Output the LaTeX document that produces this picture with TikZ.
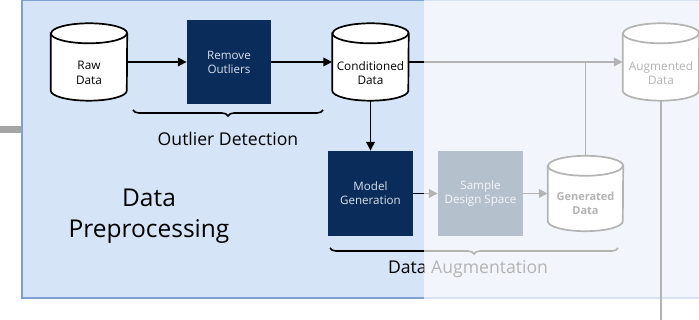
\documentclass[tikz,border=0pt]{standalone}
\usepackage{fontspec}
\setmainfont{Open Sans}
\usetikzlibrary{arrows.meta,decorations.pathreplacing,calc}

\definecolor{navy}{RGB}{10,44,90}
\definecolor{boxtext}{RGB}{218,225,236}
\definecolor{panelfill}{RGB}{214,228,248}
\definecolor{panelline}{RGB}{128,160,210}
\definecolor{stub}{RGB}{165,165,165}

\tikzset{
  stepbox/.style={fill=navy, minimum width=84pt, minimum height=84pt, inner sep=0pt,
    text=boxtext, font=\fontsize{11.6}{14}\selectfont, align=center},
  db/.style={minimum width=76pt, minimum height=77pt, inner sep=0pt},
  dbline/.style={draw=black, line width=1.7pt, fill=white},
  dbtext/.style={font=\fontsize{11.8}{14.5}\selectfont, align=center, inner sep=0pt},
  flow/.style={line width=1.7pt, -{Triangle[length=9pt,width=8.5pt]}},
  plain/.style={line width=1.7pt},
  groupbrace/.style={decorate, decoration={brace, mirror, amplitude=6pt}, line width=1.6pt},
  grouptitle/.style={font=\fontsize{17.6}{21}\selectfont},
}

% database cylinder drawn round a named node
\newcommand\drawdb[2]{%
  \draw[dbline] ([yshift=-10pt]#1.north west) -- ([yshift=10pt]#1.south west)
    arc[start angle=180, end angle=360, x radius=#2, y radius=10pt]
    -- ([yshift=-10pt]#1.north east)
    arc[start angle=0, end angle=180, x radius=#2, y radius=10pt] -- cycle;
  \draw[dbline, fill=none] ([yshift=-10pt]#1.north west)
    arc[start angle=180, end angle=360, x radius=#2, y radius=10pt];
}

\begin{document}
\begin{tikzpicture}[x=1pt, y=1pt]
  \useasboundingbox (0,0) rectangle (699,320);

  % preprocessing panel and incoming stub
  \fill[stub] (0,187) rectangle (22,194);
  \draw[draw=panelline, fill=panelfill, line width=1.2pt] (22,22) rectangle (730,319.6);

  % process steps
  \node[stepbox] (remove) at (229,258) {Remove\\Outliers};
  \node[stepbox, minimum width=85pt, minimum height=85pt] (model) at (370.5,126.5) {Model\\Generation};
  \node[stepbox, minimum width=85pt, minimum height=85pt] (sample) at (480.5,126.5) {Sample\\Design Space};

  % data stores
  \node[db] (raw) at (89,258) {};
  \node[db] (cond) at (370.5,258) {};
  \node[db] (aug) at (661,258) {};
  \node[db, minimum width=75pt, minimum height=75pt] (gen) at (585.5,126.5) {};
  \drawdb{raw}{38pt}
  \drawdb{cond}{38pt}
  \drawdb{aug}{38pt}
  \drawdb{gen}{37.5pt}

  \node[dbtext] (rawlbl) at ([yshift=-11pt]raw.center) {Raw\\Data};
  \node[dbtext] (condlbl) at ([yshift=-11pt]cond.center) {Conditioned\\Data};
  \node[dbtext] (auglbl) at ([yshift=-11pt]aug.center) {Augmented\\Data};
  \node[dbtext, font=\fontsize{11}{14}\selectfont\bfseries] (genlbl) at ([yshift=-10pt]gen.center) {Generated\\Data};

  % connectors
  \draw[flow] (raw.east) -- (remove.west);
  \draw[flow] (remove.east) -- (cond.west);
  \draw[flow] (cond.east) -- (aug.west);
  \draw[flow] (cond.south) -- (model.north);
  \draw[flow] (model.east) -- (sample.west);
  \draw[flow] (sample.east) -- (gen.west);
  \coordinate (join) at (gen.north |- aug.west);
  \draw[plain] (gen.north) -- (join);
  \coordinate (augout) at (aug.south |- 0,0);
  \draw[plain] (aug.south) -- (augout);

  % group braces and titles
  \draw[groupbrace] (133,210) -- (323,210);
  \node[grouptitle] (odet) at (228,181.5) {Outlier Detection};
  \draw[groupbrace] (330,72) -- (618,72);
  \node[grouptitle] (daug) at (468,51) {Data Augmentation};
  \node[font=\fontsize{24.5}{31}\selectfont, align=center] (prep) at (149,104) {Data\\Preprocessing};

  % faded stage
  \fill[white, fill opacity=0.7] (424,0) rectangle (699,320);
\end{tikzpicture}
\end{document}
